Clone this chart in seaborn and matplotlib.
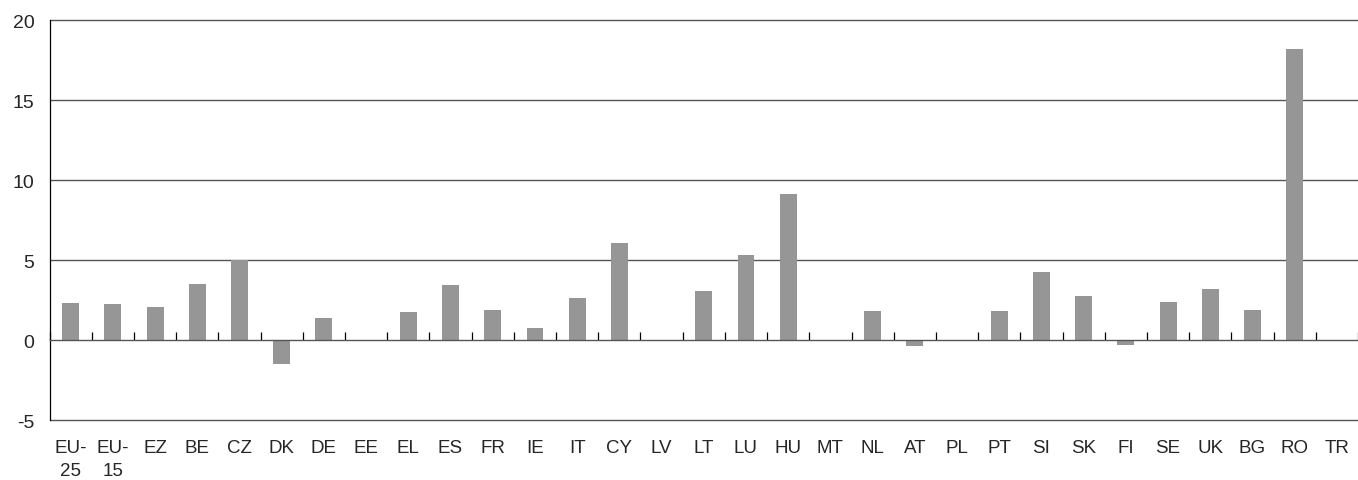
import matplotlib
matplotlib.use('Agg')
import matplotlib.pyplot as plt
import seaborn as sns
import numpy as np
import pandas as pd

# values (missing countries = no bar)
countries = ['EU-\n25', 'EU-\n15', 'EZ', 'BE', 'CZ', 'DK', 'DE', 'EE', 'EL', 'ES',
             'FR', 'IE', 'IT', 'CY', 'LV', 'LT', 'LU', 'HU', 'MT', 'NL',
             'AT', 'PL', 'PT', 'SI', 'SK', 'FI', 'SE', 'UK', 'BG', 'RO', 'TR']
values = [2.3, 2.25, 2.05, 3.5, 5.0, -1.5, 1.4, np.nan, 1.75, 3.45,
          1.9, 0.75, 2.65, 6.05, np.nan, 3.05, 5.3, 9.1, np.nan, 1.8,
          -0.4, np.nan, 1.8, 4.25, 2.75, -0.3, 2.4, 3.2, 1.9, 18.2, np.nan]
y_ticks = [-5, 0, 5, 10, 15, 20]

df = pd.DataFrame({'country': countries, 'value': values})

sns.set_style('white')
plt.rcParams['font.family'] = ['Liberation Sans', 'DejaVu Sans']

fig = plt.figure(figsize=(13.58, 4.81), dpi=100)
ax = fig.add_axes([0.0365, 0.1247, 0.9635, 0.8316])

sns.barplot(data=df, x='country', y='value', order=countries, color='#969696',
            saturation=1, width=0.4, linewidth=0, edgecolor='none', ax=ax)

ax.set_ylim(-5, 20)
ax.set_xlim(-0.5, len(countries) - 0.5)
ax.set_yticks(y_ticks)
ax.set_yticklabels([str(t) for t in y_ticks])
ax.set_xlabel('')
ax.set_ylabel('')

# horizontal grid (except zero, drawn by secondary axis)
for t in y_ticks:
    if t != 0:
        ax.axhline(t, color='#555555', lw=1.0, zorder=0, clip_on=False)

for side in ['top', 'right', 'bottom']:
    ax.spines[side].set_visible(False)
ax.spines['left'].set_color('black')
ax.spines['left'].set_linewidth(0.9)

ax.tick_params(axis='y', length=0, pad=11, labelsize=14)
ax.tick_params(axis='x', length=0, pad=14, labelsize=13.5)
for lbl in ax.get_xticklabels():
    lbl.set_linespacing(1.4)

# zero line with category-boundary tick marks pointing up
zero_pos = (0 - (-5)) / 25
sec = ax.secondary_xaxis(zero_pos)
sec.set_xticks(np.arange(len(countries) + 1) - 0.5)
sec.set_xticklabels([])
sec.tick_params(axis='x', direction='in', length=6, width=0.9, color='black')
sec.spines['bottom'].set_color('#555555')
sec.spines['bottom'].set_linewidth(1.0)
sec.spines['top'].set_visible(False)
sec.set_zorder(3)

fig.savefig('out.png', dpi=100)
